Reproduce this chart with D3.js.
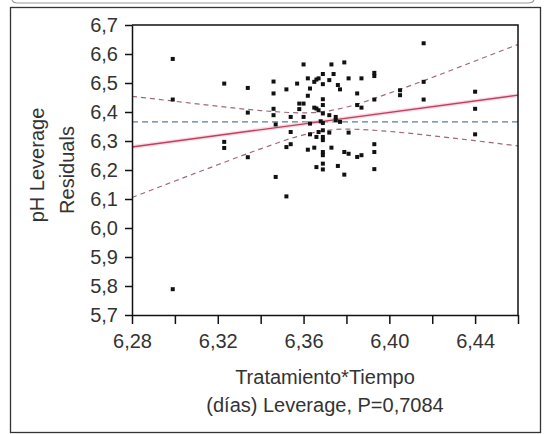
<!DOCTYPE html>
<html>
<head>
<meta charset="utf-8">
<script src="https://cdn.jsdelivr.net/npm/d3@7"></script>
<style>
  body { margin: 0; background: #fff; }
  svg text { font-family: "Liberation Sans", Arial, sans-serif; fill: #333; }
</style>
</head>
<body>
<div id="chart"></div>
<script>

// leverage points
var leverageX = [6.299, 6.299, 6.299, 6.323, 6.323, 6.323, 6.334, 6.334, 6.334,
    6.346, 6.346, 6.346, 6.346, 6.347, 6.347, 6.352, 6.352, 6.352, 6.354, 6.354, 6.354,
    6.357, 6.358, 6.358, 6.360, 6.360, 6.360, 6.362, 6.362, 6.362, 6.363, 6.363, 6.363,
    6.365, 6.365, 6.365, 6.366, 6.366, 6.366, 6.366, 6.367, 6.367, 6.367, 6.368,
    6.369, 6.369, 6.369, 6.369, 6.369, 6.369, 6.369, 6.369, 6.369, 6.369, 6.369, 6.369, 6.369,
    6.372, 6.372, 6.372, 6.373, 6.373, 6.374, 6.375, 6.375, 6.376,
    6.376, 6.377, 6.377, 6.379, 6.379, 6.379, 6.381, 6.381, 6.381,
    6.385, 6.385, 6.385, 6.387, 6.387, 6.387,
    6.393, 6.393, 6.393, 6.393, 6.393, 6.393, 6.405, 6.405,
    6.416, 6.416, 6.416, 6.440, 6.440, 6.440]
var leverageY = [6.583, 6.443, 5.789, 6.498, 6.297, 6.276, 6.483, 6.398, 6.244,
    6.505, 6.464, 6.411, 6.389, 6.357, 6.176, 6.478, 6.279, 6.109, 6.383, 6.331, 6.289,
    6.498, 6.429, 6.410, 6.564, 6.429, 6.383, 6.516, 6.456, 6.270, 6.481, 6.360, 6.323,
    6.504, 6.415, 6.277, 6.512, 6.412, 6.314, 6.210, 6.516, 6.406, 6.331, 6.368,
    6.531, 6.496, 6.444, 6.424, 6.395, 6.362, 6.337, 6.314, 6.303, 6.262, 6.251, 6.222, 6.202,
    6.510, 6.389, 6.329, 6.277, 6.564, 6.531, 6.383, 6.372, 6.214,
    6.493, 6.478, 6.366, 6.571, 6.262, 6.184, 6.516, 6.329, 6.256,
    6.464, 6.424, 6.245, 6.516, 6.415, 6.251,
    6.535, 6.524, 6.443, 6.289, 6.262, 6.203, 6.475, 6.458,
    6.637, 6.504, 6.443, 6.470, 6.411, 6.323]

// fitted line ends and horizontal mean
var fitX = [6.28, 6.46]
var fitY = [6.2795, 6.458]
var meanY = 6.366

// confidence curves, read at a few x positions
var bandX = [6.28, 6.30, 6.32, 6.34, 6.36, 6.37, 6.38, 6.40, 6.42, 6.44, 6.46]
var bandUpper = [6.454, 6.437, 6.420, 6.405, 6.397, 6.402, 6.417, 6.465, 6.519, 6.576, 6.633]
var bandLower = [6.105, 6.162, 6.218, 6.273, 6.321, 6.336, 6.341, 6.333, 6.318, 6.301, 6.283]

var xTicks = [6.28, 6.30, 6.32, 6.34, 6.36, 6.38, 6.40, 6.42, 6.44, 6.46]
var xTickLabels = ["6,28", "", "6,32", "", "6,36", "", "6,40", "", "6,44", ""]
var yTicks = [5.7, 5.8, 5.9, 6.0, 6.1, 6.2, 6.3, 6.4, 6.5, 6.6, 6.7]
var yTickLabels = ["5,7", "5,8", "5,9", "6,0", "6,1", "6,2", "6,3", "6,4", "6,5", "6,6", "6,7"]


var width = 547
var height = 434

// plot box (named so they don't clash with window.top)
var plotL = 132, plotR = 518, plotT = 25, plotB = 315

var svg = d3.select("#chart").append("svg")
    .attr("width", width)
    .attr("height", height)

svg.append("rect")
    .attr("width", width)
    .attr("height", height)
    .attr("fill", "#fff")

// bit of the rounded header box cut off at the top
svg.append("path")
    .attr("d", "M12,-6 L12,-1 Q12,3 18,3 L528,3 Q534,3 534,-1 L534,-6")
    .attr("fill", "none")
    .attr("stroke", "#9a9a9a")
    .attr("stroke-width", 1.2)

// outer frame
svg.append("rect")
    .attr("x", 10.5)
    .attr("y", 7.5)
    .attr("width", 530)
    .attr("height", 425)
    .attr("fill", "none")
    .attr("stroke", "#333")
    .attr("stroke-width", 1.3)

var x = d3.scaleLinear()
    .domain([6.28, 6.46])
    .range([plotL, plotR])

var y = d3.scaleLinear()
    .domain([5.7, 6.7])
    .range([plotB, plotT])

var plot = svg.append("g")

// mean line
plot.append("line")
    .attr("x1", x(6.28))
    .attr("x2", x(6.46))
    .attr("y1", y(meanY))
    .attr("y2", y(meanY))
    .attr("stroke", "#5a7f9a")
    .attr("stroke-width", 1.3)
    .attr("stroke-dasharray", "6,4")

// fit line with a soft pink halo like the jpeg
var fitLine = d3.line()
    .x((d, i) => x(fitX[i]))
    .y(d => y(d))

plot.append("path")
    .attr("d", fitLine(fitY))
    .attr("fill", "none")
    .attr("stroke", "#f2b8c6")
    .attr("stroke-width", 4)
    .attr("opacity", 0.5)

plot.append("path")
    .attr("d", fitLine(fitY))
    .attr("fill", "none")
    .attr("stroke", "#c2405e")
    .attr("stroke-width", 1.4)

var bandLine = d3.line()
    .x((d, i) => x(bandX[i]))
    .y(d => y(d))
    .curve(d3.curveMonotoneX)

;[bandUpper, bandLower].forEach(function (b) {
    plot.append("path")
        .attr("d", bandLine(b))
        .attr("fill", "none")
        .attr("stroke", "#a06878")
        .attr("stroke-width", 1.2)
        .attr("stroke-dasharray", "5,4")
})

// points
plot.selectAll(".pt")
    .data(leverageX)
    .enter()
    .append("rect")
    .attr("class", "pt")
    .attr("x", d => x(d) - 2)
    .attr("y", (d, i) => y(leverageY[i]) - 2)
    .attr("width", 4)
    .attr("height", 4)
    .attr("fill", "#111")

// box: top and right
svg.append("path")
    .attr("d", "M" + plotL + "," + plotT + " L" + plotR + "," + plotT + " L" + plotR + "," + plotB)
    .attr("fill", "none")
    .attr("stroke", "#111")
    .attr("stroke-width", 1.5)

var fontSize = 20

var xAxis = d3.axisBottom(x)
    .tickValues(xTicks)
    .tickFormat((d, i) => xTickLabels[i])
    .tickSize(9)
    .tickPadding(10)
    .tickSizeOuter(0)

var xg = svg.append("g")
    .attr("transform", "translate(0," + plotB + ")")
    .call(xAxis)

var yAxis = d3.axisLeft(y)
    .tickValues(yTicks)
    .tickFormat((d, i) => yTickLabels[i])
    .tickSize(7)
    .tickPadding(7)
    .tickSizeOuter(0)

var yg = svg.append("g")
    .attr("transform", "translate(" + plotL + ",0)")
    .call(yAxis)

;[xg, yg].forEach(function (g) {
    g.select(".domain").attr("stroke", "#111").attr("stroke-width", 1.5)
    g.selectAll(".tick line").attr("stroke", "#111").attr("stroke-width", 1.5)
    g.selectAll(".tick text")
        .attr("fill", "#333")
        .style("font-family", '"Liberation Sans", Arial, sans-serif')
        .style("font-size", fontSize + "px")
})

// axis titles
svg.append("text")
    .attr("x", 325)
    .attr("y", 384)
    .attr("text-anchor", "middle")
    .style("font-size", fontSize + "px")
    .text("Tratamiento*Tiempo")

svg.append("text")
    .attr("x", 325)
    .attr("y", 412)
    .attr("text-anchor", "middle")
    .style("font-size", fontSize + "px")
    .text("(días) Leverage, P=0,7084")

svg.append("text")
    .attr("transform", "translate(44,165) rotate(-90)")
    .attr("text-anchor", "middle")
    .style("font-size", fontSize + "px")
    .text("pH Leverage")

svg.append("text")
    .attr("transform", "translate(74,170) rotate(-90)")
    .attr("text-anchor", "middle")
    .style("font-size", fontSize + "px")
    .text("Residuals")

</script>
</body>
</html>
